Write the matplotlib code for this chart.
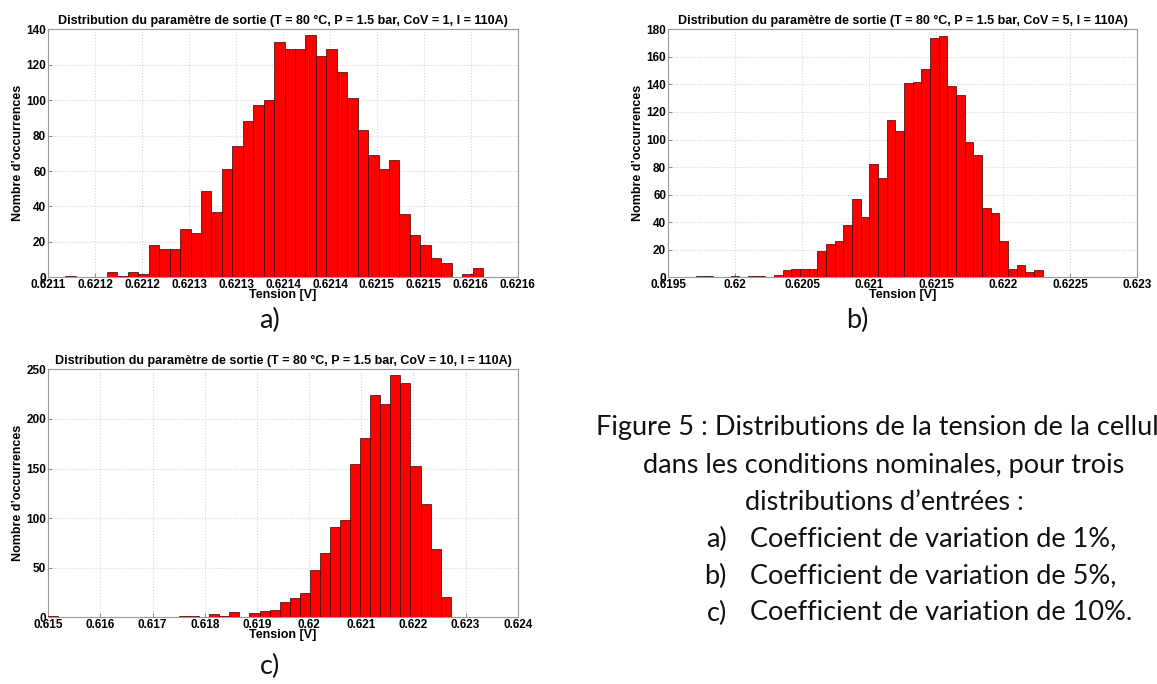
import numpy as np
import matplotlib
matplotlib.use("Agg")
import matplotlib.pyplot as plt

# histogram counts (40 bins each), 2000 samples per run
counts_a = [1, 0, 0, 0, 3, 1, 3, 2, 18, 16, 16, 27, 25, 49, 37, 61, 74, 88, 97, 100,
            133, 129, 129, 137, 125, 129, 116, 101, 83, 69, 61, 66, 36, 24, 18, 11, 8, 0, 2, 5]
counts_b = [1, 1, 0, 0, 1, 0, 1, 1, 0, 2, 5, 6, 6, 6, 19, 24, 26, 38, 57, 44,
            82, 72, 114, 106, 141, 142, 151, 174, 175, 139, 132, 98, 89, 50, 47, 26, 6, 9, 4, 5]
counts_c = [1, 0, 0, 0, 0, 0, 0, 0, 0, 0, 0, 0, 0, 1, 1, 0, 3, 1, 5, 0,
            4, 6, 7, 15, 19, 24, 48, 65, 91, 98, 155, 181, 224, 215, 244, 236, 153, 114, 69, 20]

# min / max of the simulated voltage for each run
range_a = (0.621118, 0.621563)
range_b = (0.619707, 0.622294)
range_c = (0.615000, 0.622715)

cov_vals = [1, 5, 10]

xticks_a = [0.62110, 0.62115, 0.62120, 0.62125, 0.62130, 0.62135,
            0.62140, 0.62145, 0.62150, 0.62155, 0.62160]
xlabels_a = ['0.6211', '0.6212', '0.6212', '0.6213', '0.6213', '0.6214',
             '0.6214', '0.6215', '0.6215', '0.6216', '0.6216']
xticks_b = [0.6195, 0.6200, 0.6205, 0.6210, 0.6215, 0.6220, 0.6225, 0.6230]
xlabels_b = ['0.6195', '0.62', '0.6205', '0.621', '0.6215', '0.622', '0.6225', '0.623']
xticks_c = [0.615, 0.616, 0.617, 0.618, 0.619, 0.620, 0.621, 0.622, 0.623, 0.624]
xlabels_c = ['0.615', '0.616', '0.617', '0.618', '0.619', '0.62', '0.621', '0.622', '0.623', '0.624']
yticks_a = [0, 20, 40, 60, 80, 100, 120, 140]
yticks_b = [0, 20, 40, 60, 80, 100, 120, 140, 160, 180]
yticks_c = [0, 50, 100, 150, 200, 250]

caption_lines = ["Figure 5 : Distributions de la tension de la cellule",
                 "dans les conditions nominales, pour trois",
                 "distributions d\u2019entr\u00e9es :"]
caption_items = [("a)", "Coefficient de variation de 1%,"),
                 ("b)", "Coefficient de variation de 5%,"),
                 ("c)", "Coefficient de variation de 10%.")]

plt.rcParams['font.family'] = ['Liberation Sans', 'DejaVu Sans']
plt.rcParams['font.weight'] = 'bold'

W, H = 1157, 684
fig = plt.figure(figsize=(W / 100, H / 100), dpi=100)


def px_axes(left, top, right, bottom):
    return fig.add_axes([left / W, 1 - bottom / H, (right - left) / W, (bottom - top) / H])


def draw_hist(ax, counts, rng, cov, xt, xl, yt):
    edges = np.linspace(rng[0], rng[1], len(counts) + 1)
    ax.bar(edges[:-1], counts, width=np.diff(edges), align='edge',
           color='#ff0000', edgecolor='#3a0000', linewidth=0.5, zorder=3)
    ax.set_xlim(xt[0], xt[-1])
    ax.set_ylim(yt[0], yt[-1])
    ax.set_xticks(xt)
    ax.set_xticklabels(xl)
    ax.set_yticks(yt)
    ax.grid(True, color='#d4d4d4', linestyle=':', linewidth=0.8, zorder=0)
    for s in ax.spines.values():
        s.set_color('#9a9a9a')
        s.set_linewidth(0.8)
    ax.tick_params(direction='in', length=3, width=0.6, color='#777777',
                   labelsize=8.5, pad=1.5)
    for lab in ax.get_xticklabels() + ax.get_yticklabels():
        lab.set_fontweight('bold')
    ax.set_title('Distribution du param\u00e8tre de sortie (T = 80 \u00b0C, P = 1.5 bar, '
                 'CoV = {}, I = 110A)'.format(cov), fontsize=9, fontweight='bold', pad=4)
    ax.set_xlabel('Tension [V]', fontsize=9, fontweight='bold', labelpad=-2)
    ax.set_ylabel('Nombre d\u2019occurrences', fontsize=9, fontweight='bold', labelpad=2)


ax_a = px_axes(48.3, 29.3, 517.7, 277.3)
draw_hist(ax_a, counts_a, range_a, cov_vals[0], xticks_a, xlabels_a, yticks_a)

ax_b = px_axes(668.3, 29.3, 1137.3, 277.3)
draw_hist(ax_b, counts_b, range_b, cov_vals[1], xticks_b, xlabels_b, yticks_b)

ax_c = px_axes(48.3, 369.3, 517.7, 617.3)
draw_hist(ax_c, counts_c, range_c, cov_vals[2], xticks_c, xlabels_c, yticks_c)

# panel letters and caption
cap_font = dict(family=['Lato', 'DejaVu Sans'], fontweight='normal', fontsize=19.5, color='#111111')
fig.text(270 / W, 1 - 320 / H, 'a)', ha='center', va='center', **cap_font)
fig.text(857 / W, 1 - 320 / H, 'b)', ha='center', va='center', **cap_font)
fig.text(270 / W, 1 - 666 / H, 'c)', ha='center', va='center', **cap_font)

fig.text(596 / W, 1 - 428 / H, caption_lines[0], ha='left', va='center', **cap_font)
fig.text(884 / W, 1 - 465 / H, caption_lines[1], ha='center', va='center', **cap_font)
fig.text(884 / W, 1 - 502 / H, caption_lines[2], ha='center', va='center', **cap_font)
for i, (lbl, txt) in enumerate(caption_items):
    y = 1 - (539 + 37 * i) / H
    fig.text(727 / W, y, lbl, ha='right', va='center', **cap_font)
    fig.text(750 / W, y, txt, ha='left', va='center', **cap_font)

fig.savefig('out.png', dpi=100)
